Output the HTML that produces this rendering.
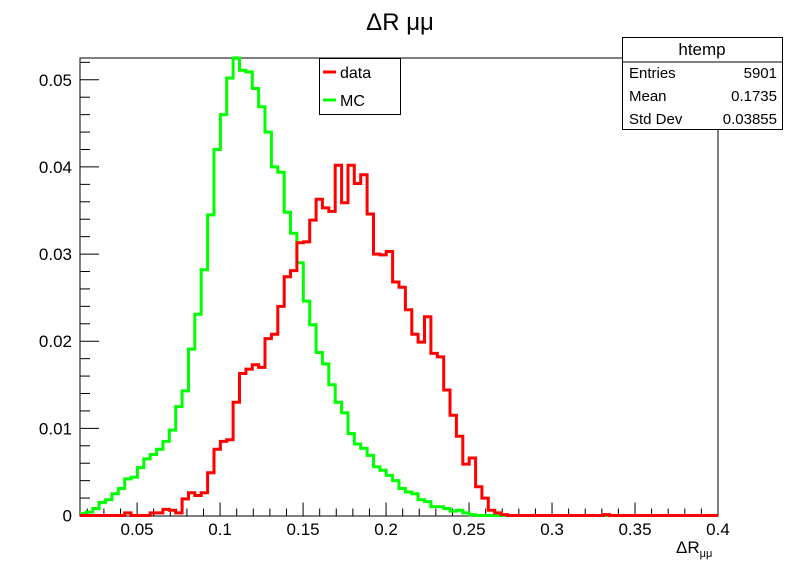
<!DOCTYPE html>
<html><head><meta charset="utf-8"><style>
body{margin:0;background:#fff;}
svg{display:block;font-family:"Liberation Sans",sans-serif;}
</style></head><body>
<svg id="chart" width="798" height="574" viewBox="0 0 798 574">
<rect x="0" y="0" width="798" height="574" fill="#fff"/>
<text x="400" y="30" font-size="24" text-anchor="middle">ΔR μμ</text>
<rect x="80" y="58" width="638" height="458" fill="none" stroke="#000" stroke-width="1"/>
<g id="axes"></g>
<g id="series"></g>
<g>
<rect x="319.5" y="58.5" width="81" height="56" fill="#fff" stroke="#000"/>
<line x1="323" y1="72" x2="336" y2="72" stroke="#ff0000" stroke-width="3"/>
<text x="340" y="78" font-size="16">data</text>
<line x1="323" y1="100" x2="336" y2="100" stroke="#00ff00" stroke-width="3"/>
<text x="340" y="106" font-size="16">MC</text>
</g>
<g>
<rect x="622.5" y="37.5" width="160" height="92" fill="#fff" stroke="#000"/>
<line x1="622.5" y1="62" x2="782.5" y2="62" stroke="#000"/>
<text x="702" y="55" font-size="17" text-anchor="middle">htemp</text>
<text x="629" y="78" font-size="15">Entries</text><text x="777" y="78" font-size="15" text-anchor="end">5901</text>
<text x="629" y="101" font-size="15">Mean</text><text x="777" y="101" font-size="15" text-anchor="end">0.1735</text>
<text x="629" y="124" font-size="15">Std Dev</text><text x="777" y="124" font-size="15" text-anchor="end">0.03855</text>
</g>
<text x="676" y="553" font-size="17">ΔR<tspan font-size="11" dy="4">μμ</tspan></text>
</svg>
<script>
const xMin = 0.0156, xMax = 0.4, nBins = 100;
const yMax = 0.0525;
const yTicks = [0, 0.01, 0.02, 0.03, 0.04, 0.05];
const yTickLabels = ["0", "0.01", "0.02", "0.03", "0.04", "0.05"];
const xTicks = [0.05, 0.1, 0.15, 0.2, 0.25, 0.3, 0.35, 0.4];
const xTickLabels = ["0.05", "0.1", "0.15", "0.2", "0.25", "0.3", "0.35", "0.4"];
const mcValues = [0.0002,0.0004,0.0008,0.0015,0.0018,0.0025,0.0031,0.0042,0.0044,0.0055,
0.0065,0.0070,0.0076,0.0085,0.0098,0.0125,0.0143,0.0191,0.0231,0.0282,
0.0345,0.0420,0.0460,0.0502,0.0526,0.0511,0.0509,0.0490,0.0469,0.0440,
0.0400,0.0394,0.0348,0.0324,0.0290,0.0246,0.0219,0.0187,0.0174,0.0150,
0.0130,0.0118,0.0094,0.0082,0.0077,0.0069,0.0056,0.0052,0.0046,0.0040,
0.0031,0.0027,0.0025,0.0018,0.0016,0.0010,0.0010,0.0008,0.0005,0.0006,
0.0003,0.0001,0,0,0,0,0,0,0,0,0,0,0,0,0,0,0,0,0,0,0,0,0,0,0,0,0,0,0,0,0,0,0,0,0,0,0,0,0,0];
const dataValues = [0,0,0,0,0,0,0,0.0003,0,0,
0,0.0003,0.0003,0.0007,0.0006,0.0003,0.0019,0.0026,0.0023,0.0026,
0.0049,0.0076,0.0085,0.0087,0.0130,0.0163,0.0168,0.0173,0.0170,0.0203,
0.0208,0.0240,0.0274,0.0281,0.0313,0.0314,0.0339,0.0363,0.0353,0.0349,
0.0402,0.0359,0.0402,0.0381,0.0391,0.0346,0.0300,0.0299,0.0303,0.0268,
0.0262,0.0236,0.0208,0.0199,0.0228,0.0186,0.0182,0.0144,0.0115,0.0091,
0.0059,0.0066,0.0033,0.0020,0.0006,0.0003,0.0001,0,0,0,
0,0,0,0,0,0,0,0,0,0,0,0,0.0001,0,0,0,0,0,0,0,0,0,0,0,0,0,0,0,0,0];

const PX0 = 80, PX1 = 718, PY0 = 515.5, PY1 = 58;
const sx = v => PX0 + (v - xMin) / (xMax - xMin) * (PX1 - PX0);
const sy = v => PY0 - v / yMax * (PY0 - PY1);
const NS = "http://www.w3.org/2000/svg";
const axes = document.getElementById('axes');
const series = document.getElementById('series');
function mk(tag, attrs, parent) {
  const e = document.createElementNS(NS, tag);
  for (const k in attrs) e.setAttribute(k, attrs[k]);
  parent.appendChild(e);
  return e;
}
for (let v = 0; v <= yMax + 1e-9; v += 0.002) {
  const major = Math.abs(v / 0.01 - Math.round(v / 0.01)) < 1e-6;
  const t = mk('line', {x1: PX0, x2: PX0 + (major ? 19 : 10), y1: sy(v), y2: sy(v), stroke: '#000'}, axes);
  
  
}
yTicks.forEach((v, i) => {
  const t = mk('text', {x: 72, y: sy(v) + 6, 'font-size': 17, 'text-anchor': 'end'}, axes);
  t.textContent = yTickLabels[i];
  
  
});
for (let k = 2; k <= 40; k++) {
  const v = k * 0.01;
  if (v < xMin) continue;
  const major = k % 5 === 0;
  const t = mk('line', {x1: sx(v), x2: sx(v), y1: PY0, y2: PY0 - (major ? 13 : 7), stroke: '#000'}, axes);
  
  
}
xTicks.forEach((v, i) => {
  const t = mk('text', {x: sx(v), y: 535, 'font-size': 17, 'text-anchor': 'middle'}, axes);
  t.textContent = xTickLabels[i];
  
  
});
function stepPath(vals) {
  const w = (xMax - xMin) / nBins;
  let d = '';
  vals.forEach((v, i) => {
    const x0 = sx(xMin + i * w), x1 = sx(xMin + (i + 1) * w), y = Math.max(sy(v), PY1);
    d += (i === 0 ? 'M' : 'L') + x0.toFixed(1) + ',' + y.toFixed(1) + 'L' + x1.toFixed(1) + ',' + y.toFixed(1);
  });
  return d;
}
const g = mk('path', {d: stepPath(mcValues), fill: 'none', stroke: '#00ff00', 'stroke-width': 3}, series);


const r = mk('path', {d: stepPath(dataValues), fill: 'none', stroke: '#ff0000', 'stroke-width': 3}, series);


</script>
</body></html>
